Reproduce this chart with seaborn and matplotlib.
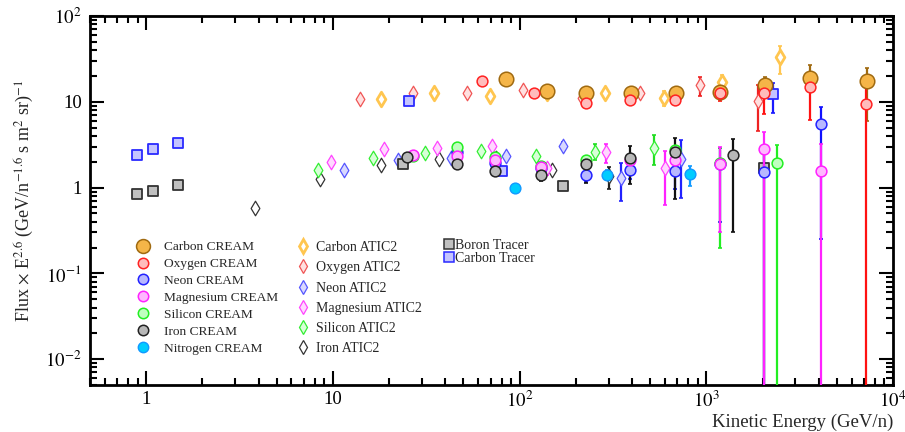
import numpy as np
import matplotlib
matplotlib.use("Agg")
import matplotlib.pyplot as plt
import seaborn as sns
from matplotlib.lines import Line2D
from matplotlib.ticker import FixedLocator, FuncFormatter, NullFormatter, LogLocator

sns.set_style("ticks")
plt.rcParams['font.family'] = ['Liberation Serif', 'DejaVu Serif']
plt.rcParams['mathtext.fontset'] = 'stix'

NAN = np.nan
BOT = 1e-3  # error bar running below the axis

# ---------------- CREAM ----------------
c_cream_E = [85, 140, 226, 394, 686, 1180, 2060, 3590, 7260]
c_cream_F = [18.2, 13.3, 12.8, 12.8, 12.6, 13.1, 15.5, 18.7, 17.3]
c_cream_lo = [17.5, 12.8, 12.2, 12.1, 11.8, 11.6, 11.8, 14.3, 5.9]
c_cream_hi = [19.0, 13.9, 13.4, 13.5, 13.4, 14.6, 19.7, 26.5, 25.0]

o_cream_E = [63, 119, 226, 389, 678, 1180, 2033, 3590, 7210]
o_cream_F = [17.3, 12.5, 9.8, 10.6, 10.6, 12.5, 12.5, 14.7, 9.3]
o_cream_lo = [16.6, 12.0, 9.2, 9.9, 9.6, 10.1, 7.3, 6.1, BOT]
o_cream_hi = [18.0, 13.0, 10.4, 11.3, 11.6, 14.6, 15.5, 21.4, 14.7]

ne_cream_E = [46, 74, 130, 226, 389, 678, 1180, 2033, 4110]
ne_cream_F = [2.6, 1.96, 1.70, 1.42, 1.62, 1.54, 1.86, 1.50, 5.57]
ne_cream_lo = [NAN, NAN, NAN, 1.15, 1.25, 0.95, 0.40, BOT, 0.25]
ne_cream_hi = [NAN, NAN, NAN, 1.75, 2.0, 2.2, 2.9, 2.9, 8.6]

mg_cream_E = [27, 46, 74, 130, 389, 678, 1180, 2033, 4110]
mg_cream_F = [2.43, 2.36, 2.07, 1.76, 2.07, 2.07, 1.90, 2.85, 1.58]
mg_cream_lo = [NAN, NAN, NAN, 1.5, NAN, NAN, 0.30, BOT, BOT]
mg_cream_hi = [NAN, NAN, NAN, 2.0, NAN, NAN, 2.95, 4.5, 3.2]

si_cream_E = [27, 46, 74, 130, 226, 678, 1180, 2390]
si_cream_F = [2.36, 3.0, 2.30, 1.80, 2.07, 2.77, 1.91, 1.96]
si_cream_lo = [NAN, NAN, NAN, NAN, NAN, NAN, 0.20, BOT]
si_cream_hi = [NAN, NAN, NAN, NAN, NAN, NAN, 2.93, 3.17]

fe_cream_E = [25, 46, 74, 130, 226, 389, 678, 1387]
fe_cream_F = [2.30, 1.86, 1.54, 1.42, 1.86, 2.24, 2.63, 2.43]
fe_cream_lo = [NAN, NAN, NAN, 1.2, 1.14, 1.11, 0.74, 0.30]
fe_cream_hi = [NAN, NAN, NAN, 1.65, 2.36, 3.09, 3.83, 3.72]

n_cream_E = [94, 293, 815]
n_cream_F = [1.0, 1.42, 1.45]
n_cream_lo = [NAN, 1.25, 1.03]
n_cream_hi = [NAN, 1.6, 1.8]

# ---------------- ATIC2 ----------------
c_atic_E = [18.0, 35.0, 69.0, 140, 286, 592, 1211, 2478]
c_atic_F = [10.9, 12.5, 11.8, 12.8, 12.5, 11.2, 16.8, 32.9]
c_atic_lo = [NAN, NAN, NAN, NAN, NAN, 8.9, 13.5, 21.3]
c_atic_hi = [NAN, NAN, NAN, NAN, NAN, 13.3, 20.5, 44.2]

o_atic_E = [14.0, 26.7, 52, 104, 215, 440, 923, 1888]
o_atic_F = [10.9, 12.8, 12.8, 13.9, 11.2, 12.5, 15.5, 10.1]
o_atic_lo = [NAN, NAN, NAN, NAN, NAN, NAN, 11.8, 4.6]
o_atic_hi = [NAN, NAN, NAN, NAN, NAN, NAN, 19.2, 15.9]

ne_atic_E = [11.5, 22.2, 42.7, 84.1, 170, 348, 730]
ne_atic_F = [1.62, 2.12, 2.24, 2.36, 3.09, 1.31, 2.18]
ne_atic_lo = [NAN, NAN, NAN, NAN, 2.8, 0.70, 0.76]
ne_atic_hi = [NAN, NAN, NAN, NAN, 3.4, 1.96, 3.63]

mg_atic_E = [9.78, 18.7, 36.3, 70.8, 141, 289, 599]
mg_atic_F = [2.01, 2.78, 2.93, 3.09, 1.67, 2.63, 1.67]
mg_atic_lo = [NAN, NAN, NAN, NAN, 1.4, 1.91, 0.62]
mg_atic_hi = [NAN, NAN, NAN, NAN, 1.95, 3.26, 2.70]

si_atic_E = [8.36, 16.3, 31.3, 61.8, 123, 252, 523]
si_atic_F = [1.62, 2.24, 2.56, 2.70, 2.36, 2.63, 2.93]
si_atic_lo = [NAN, NAN, NAN, NAN, NAN, 2.07, 1.81]
si_atic_hi = [NAN, NAN, NAN, NAN, NAN, 3.26, 4.15]

fe_atic_E = [3.84, 8.57, 18.0, 36.8, 74.4, 150, 300]
fe_atic_F = [0.584, 1.27, 1.81, 2.18, 2.24, 1.62, 1.38]
fe_atic_lo = [NAN, NAN, NAN, NAN, NAN, NAN, 0.97]
fe_atic_hi = [NAN, NAN, NAN, NAN, NAN, NAN, 1.76]

# ---------------- TRACER ----------------
b_tr_E = [0.895, 1.09, 1.485, 23.6, 170, 2033]
b_tr_F = [0.851, 0.923, 1.084, 1.86, 1.03, 1.67]
b_tr_lo = [NAN, NAN, NAN, NAN, NAN, BOT]
b_tr_hi = [NAN, NAN, NAN, NAN, NAN, 2.9]

c_tr_E = [0.895, 1.09, 1.485, 25.7, 80, 2275]
c_tr_F = [2.43, 2.78, 3.35, 10.3, 1.54, 12.2]
c_tr_lo = [NAN, NAN, NAN, NAN, NAN, 7.5]
c_tr_hi = [NAN, NAN, NAN, NAN, NAN, 16.4]

fig = plt.figure(figsize=(9.05, 4.32), dpi=100)
ax = fig.add_axes([90/905, 47/432, 803/905, 369/432])
ax.set_xscale('log')
ax.set_yscale('log')


def draw(E, F, lo, hi, marker, s, face, edge, ecol, lw, z, elw=1.6):
    E = np.asarray(E, float); F = np.asarray(F, float)
    lo = np.asarray(lo, float); hi = np.asarray(hi, float)
    m = ~np.isnan(lo)
    if m.any():
        ax.errorbar(E[m], F[m], yerr=[F[m] - lo[m], hi[m] - F[m]], fmt='none',
                    ecolor=ecol, elinewidth=elw, capsize=1.5, capthick=1.2, zorder=z - 0.5)
    sns.scatterplot(x=E, y=F, marker=marker, s=s, color=face, edgecolor=edge,
                    linewidth=lw, ax=ax, zorder=z, legend=False)


# ATIC2 diamonds
draw(fe_atic_E, fe_atic_F, fe_atic_lo, fe_atic_hi, 'd', 55, '#ffffff', '#333333', '#222222', 0.9, 3)
draw(si_atic_E, si_atic_F, si_atic_lo, si_atic_hi, 'd', 55, '#d8ffd8', '#33ee33', '#22dd22', 0.9, 3)
draw(mg_atic_E, mg_atic_F, mg_atic_lo, mg_atic_hi, 'd', 55, '#ffd8ff', '#ff44ff', '#ff22ff', 0.9, 3)
draw(ne_atic_E, ne_atic_F, ne_atic_lo, ne_atic_hi, 'd', 55, '#d8d8ff', '#5555ff', '#2222ff', 0.9, 3)
draw(o_atic_E, o_atic_F, o_atic_lo, o_atic_hi, 'd', 55, '#ffe0e0', '#f05555', '#ee2222', 0.9, 3)
draw(c_atic_E, c_atic_F, c_atic_lo, c_atic_hi, 'd', 55, '#ffffff', '#ffc650', '#ffc650', 2.0, 3)

# tracer squares
draw(b_tr_E, b_tr_F, b_tr_lo, b_tr_hi, 's', 55, '#c0c0c0', '#333333', '#111111', 1.3, 4)
draw(c_tr_E, c_tr_F, c_tr_lo, c_tr_hi, 's', 55, '#c4c4ff', '#2a2aff', '#1a1aff', 1.3, 4)

# CREAM circles
draw(n_cream_E, n_cream_F, n_cream_lo, n_cream_hi, 'o', 60, '#00ccff', '#1199ff', '#1199ff', 1.0, 5)
draw(ne_cream_E, ne_cream_F, ne_cream_lo, ne_cream_hi, 'o', 60, '#b8b8ff', '#2222ff', '#1111ff', 1.1, 5)
draw(mg_cream_E, mg_cream_F, mg_cream_lo, mg_cream_hi, 'o', 60, '#ffb8ff', '#ff22ff', '#ff22ff', 1.1, 5.2)
draw(si_cream_E, si_cream_F, si_cream_lo, si_cream_hi, 'o', 60, '#c0ffc0', '#22ee22', '#22ee22', 1.1, 5.1)
draw(fe_cream_E, fe_cream_F, fe_cream_lo, fe_cream_hi, 'o', 60, '#b8b8b8', '#222222', '#111111', 1.1, 5.3)
draw(c_cream_E, c_cream_F, c_cream_lo, c_cream_hi, 'o', 110, '#f5b548', '#a06a10', '#a06a10', 1.1, 5.4)
draw(o_cream_E, o_cream_F, o_cream_lo, o_cream_hi, 'o', 60, '#ffbcbc', '#ff2222', '#ff1111', 1.1, 5.5)

ax.set_xlim(0.5, 1e4)
ax.set_ylim(5e-3, 100)

xlab = {1: '1', 10: '10', 100: '$10^{2}$', 1000: '$10^{3}$', 10000: '$10^{4}$'}
ylab = {100: '$10^{2}$', 10: '10', 1: '1', 0.1: '$10^{-1}$', 0.01: '$10^{-2}$'}
ax.xaxis.set_major_locator(FixedLocator(list(xlab.keys())))
ax.yaxis.set_major_locator(FixedLocator(list(ylab.keys())))
ax.xaxis.set_major_formatter(FuncFormatter(lambda v, p: min(xlab.items(), key=lambda kv: abs(np.log10(kv[0]) - np.log10(v)))[1]))
ax.yaxis.set_major_formatter(FuncFormatter(lambda v, p: min(ylab.items(), key=lambda kv: abs(np.log10(kv[0]) - np.log10(v)))[1]))
ax.xaxis.set_minor_locator(LogLocator(base=10, subs=np.arange(2, 10)))
ax.yaxis.set_minor_locator(LogLocator(base=10, subs=np.arange(2, 10)))
ax.xaxis.set_minor_formatter(NullFormatter())
ax.yaxis.set_minor_formatter(NullFormatter())
ax.tick_params(which='both', direction='in', top=True, right=True, width=1.5, colors='black')
ax.tick_params(which='major', length=10, labelsize=13.5)
ax.tick_params(axis='x', which='major', pad=4)
ax.tick_params(axis='y', which='major', pad=6)
ax.tick_params(which='minor', length=5)
for sp in ax.spines.values():
    sp.set_linewidth(2)
    sp.set_color('black')

ax.set_xlabel('Kinetic Energy (GeV/n)', fontsize=13.5, loc='right', labelpad=2)
ax.set_ylabel(r'Flux $\times$ E$^{2.6}$ (GeV/n$^{-1.6}$ s m$^{2}$ sr)$^{-1}$', fontsize=13, labelpad=7)

# legends
def h(marker, ms, face, edge, lw):
    return Line2D([], [], linestyle='none', marker=marker, markersize=ms,
                  markerfacecolor=face, markeredgecolor=edge, markeredgewidth=lw)

leg1_handles = [h('o', 10, '#f5b548', '#a06a10', 1.1), h('o', 7.5, '#ffbcbc', '#ff2222', 1.1),
                h('o', 7.5, '#b8b8ff', '#2222ff', 1.1), h('o', 7.5, '#ffb8ff', '#ff22ff', 1.1),
                h('o', 7.5, '#c0ffc0', '#22ee22', 1.1), h('o', 7.5, '#b8b8b8', '#222222', 1.1),
                h('o', 7.5, '#00ccff', '#1199ff', 1.0)]
leg1_labels = ['Carbon CREAM', 'Oxygen CREAM', 'Neon CREAM', 'Magnesium CREAM',
               'Silicon CREAM', 'Iron CREAM', 'Nitrogen CREAM']
leg2_handles = [h('d', 7.5, '#ffffff', '#ffc650', 2.0), h('d', 7.5, '#ffe0e0', '#f05555', 0.9),
                h('d', 7.5, '#d8d8ff', '#5555ff', 0.9), h('d', 7.5, '#ffd8ff', '#ff44ff', 0.9),
                h('d', 7.5, '#d8ffd8', '#33ee33', 0.9), h('d', 7.5, '#ffffff', '#333333', 0.9)]
leg2_labels = ['Carbon ATIC2', 'Oxygen ATIC2', 'Neon ATIC2', 'Magnesium ATIC2',
               'Silicon ATIC2', 'Iron ATIC2']
leg3_handles = [h('s', 7, '#c0c0c0', '#333333', 1.1), h('s', 7, '#c4c4ff', '#2a2aff', 1.1)]
leg3_labels = ['Boron Tracer', 'Carbon Tracer']

l1 = ax.legend(leg1_handles, leg1_labels, loc='upper left', bbox_to_anchor=(0.056, 0.39),
               frameon=False, fontsize=9.6, labelspacing=0.34, handletextpad=1.0,
               borderpad=0, borderaxespad=0, handlelength=1.2)
ax.add_artist(l1)
l2 = ax.legend(leg2_handles, leg2_labels, loc='upper left', bbox_to_anchor=(0.255, 0.39),
               frameon=False, fontsize=10, labelspacing=0.52, handletextpad=0.35,
               borderpad=0, borderaxespad=0, handlelength=1.2)
ax.add_artist(l2)
l3 = ax.legend(leg3_handles, leg3_labels, loc='upper left', bbox_to_anchor=(0.44, 0.397),
               frameon=False, fontsize=10, labelspacing=0.05, handletextpad=0.05,
               borderpad=0, borderaxespad=0, handlelength=0.8)

fig.savefig('out.png', dpi=100)
